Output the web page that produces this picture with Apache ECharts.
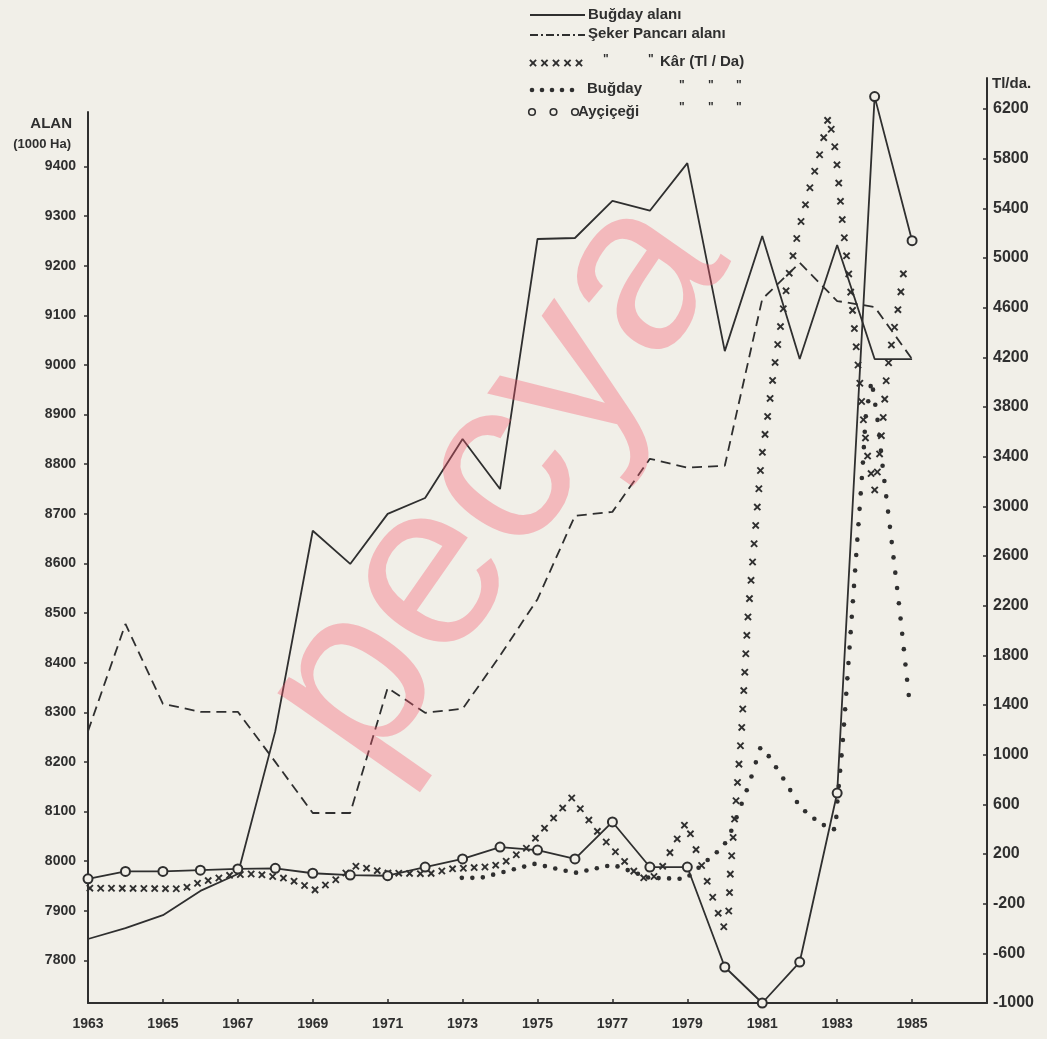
<!DOCTYPE html>
<html>
<head>
<meta charset="utf-8">
<script src="https://cdn.jsdelivr.net/npm/echarts@6/dist/echarts.min.js"></script>
<style>
html,body{margin:0;padding:0;background:#f1efe8;}
#c{width:1047px;height:1039px;}
</style>
</head>
<body>
<div id="c"></div>
<script>
// ---- data ----
const years = [1963,1964,1965,1966,1967,1968,1969,1970,1971,1972,1973,1974,1975,1976,1977,1978,1979,1980,1981,1982,1983,1984,1985];
// Buğday alanı (1000 Ha) - left axis
const bugdayAlani = [7843,7865,7891,7940,7974,8262,8666,8599,8700,8732,8851,8750,9254,9256,9331,9311,9407,9028,9260,9012,9242,9012,9012];
// Şeker Pancarı alanı (1000 Ha) - left axis
const sekerAlani = [8262,8478,8317,8301,8301,8200,8097,8097,8349,8299,8307,8414,8528,8696,8704,8811,8793,8797,9133,9206,9129,9117,9012];
// Ayçiçeği Kâr (Tl/da) - right axis
const aycicegiKar = [0,60,60,70,80,85,45,30,25,95,160,256,232,160,458,95,95,-710,-1000,-670,691,6300,5140];
// Şeker Pancarı Kâr (Tl/da) - traced path [year, value]
const sekerKar = [[1963.05,-75],[1965.54,-80],[1965.86,-40],[1966.83,32],[1967.47,40],[1968.35,0],[1969.07,-90],[1969.61,-8],[1970.17,105],[1970.97,48],[1972.10,40],[1972.69,80],[1973.68,97],[1974.05,121],[1974.69,242],[1975.92,653],[1976.73,330],[1977.69,24],[1977.98,-8],[1978.25,48],[1978.97,459],[1979.48,24],[1979.96,-395],[1980.10,-299],[1980.15,56],[1980.31,669],[1980.44,1153],[1980.61,2080],[1980.79,2725],[1980.98,3386],[1981.11,3652],[1981.38,4241],[1981.68,4821],[1981.94,5184],[1982.29,5587],[1982.56,5861],[1982.77,6143],[1982.96,5861],[1983.15,5265],[1983.33,4821],[1983.55,4160],[1983.71,3668],[1983.82,3386],[1984.00,3128],[1984.11,3354],[1984.24,3749],[1984.32,4055],[1984.48,4362],[1984.67,4660],[1984.81,4966]];
// Buğday Kâr (Tl/da) - traced path [year, value]
const bugdayKar = [[1972.98,8],[1973.49,8],[1974.93,121],[1976.00,48],[1977.02,113],[1977.98,8],[1978.95,0],[1979.96,258],[1980.20,403],[1980.66,774],[1980.95,1056],[1981.19,983],[1981.65,766],[1982.00,580],[1982.56,443],[1982.96,395],[1982.99,572],[1983.15,1104],[1983.55,2781],[1983.68,3313],[1983.76,3717],[1983.92,4015],[1984.08,3692],[1984.22,3305],[1984.43,2781],[1984.67,2161],[1984.94,1395]];
// tick labels
const xTicks = [1963,1965,1967,1969,1971,1973,1975,1977,1979,1981,1983,1985];
const leftTicks = [7800,7900,8000,8100,8200,8300,8400,8500,8600,8700,8800,8900,9000,9100,9200,9300,9400];
const rightTicks = [-1000,-600,-200,200,600,1000,1400,1800,2200,2600,3000,3400,3800,4200,4600,5000,5400,5800,6200];

// ---- styling ----
const INK = '#2f2f2f';
const BG = '#f1efe8';
const FONT = '"Liberation Sans", "DejaVu Sans", Arial, sans-serif';
const plain = v => String(v);

function glyphsAlong(api, pts, sx, sy, make) {
  const px = pts.map(p => api.coord(p));
  const out = [make(px[0][0], px[0][1])];
  let next = 1;
  for (let i = 0; i < px.length - 1; i++) {
    const x0 = px[i][0], y0 = px[i][1];
    const dx = px[i+1][0] - x0, dy = px[i+1][1] - y0;
    const L = Math.sqrt((dx/sx)*(dx/sx) + (dy/sy)*(dy/sy));
    while (next <= L) {
      const f = next / L;
      out.push(make(x0 + dx*f, y0 + dy*f));
      next += 1;
    }
    next -= L;
  }
  return out;
}
function xGlyph(x, y) {
  const h = 3.1;
  return {type:'group', children:[
    {type:'line', shape:{x1:x-h,y1:y-h,x2:x+h,y2:y+h}, style:{stroke:INK,lineWidth:1.9}},
    {type:'line', shape:{x1:x-h,y1:y+h,x2:x+h,y2:y-h}, style:{stroke:INK,lineWidth:1.9}}
  ]};
}
function dotGlyph(x, y) {
  return {type:'circle', shape:{cx:x, cy:y, r:2.3}, style:{fill:INK}};
}

const chart = echarts.init(document.getElementById('c'), null, {renderer:'canvas'});

const gridCommon = {left:88, right:60, bottom:36, containLabel:false};
const xCommon = {
  type:'value', min:1963, max:1987,
  splitLine:{show:false},
  axisLine:{lineStyle:{color:INK, width:2}}
};

const legendX = 530;
const legend = [];
legend.push({type:'line', shape:{x1:legendX, y1:15, x2:legendX+55, y2:15}, style:{stroke:INK, lineWidth:1.8}});
legend.push({type:'line', shape:{x1:legendX, y1:35, x2:legendX+55, y2:35}, style:{stroke:INK, lineWidth:1.8, lineDash:[8,3,2,3]}});
for (let i = 0; i < 5; i++) {
  legend.push(xGlyph(legendX + 3 + i*11.5, 63));
  legend.push(dotGlyph(legendX + 2 + i*10, 90));
}
for (let i = 0; i < 3; i++) {
  legend.push({type:'circle', shape:{cx:legendX + 2 + i*21.5, cy:112, r:3.3}, style:{fill:BG, stroke:INK, lineWidth:1.6}});
}
const lt = (text, x, y, size) => ({type:'text', x:x, y:y, style:{text:text, fill:INK, font:'bold ' + (size||15) + 'px ' + FONT, verticalAlign:'middle', align:'left'}});
legend.push(lt('Buğday alanı', 588, 15));
legend.push(lt('Şeker Pancarı alanı', 588, 34));
legend.push(lt('"', 603, 60, 12));
legend.push(lt('"', 648, 60, 12));
legend.push(lt('Kâr (Tl / Da)', 660, 62));
legend.push(lt('Buğday', 587, 89));
legend.push(lt('"', 679, 86, 12));
legend.push(lt('"', 708, 86, 12));
legend.push(lt('"', 736, 86, 12));
legend.push(lt('Ayçiçeği', 578, 112));
legend.push(lt('"', 679, 108, 12));
legend.push(lt('"', 708, 108, 12));
legend.push(lt('"', 736, 108, 12));
// axis titles
legend.push({type:'text', x:72, y:124, style:{text:'ALAN', fill:INK, font:'bold 15px ' + FONT, align:'right', verticalAlign:'middle'}});
legend.push({type:'text', x:71, y:144, style:{text:'(1000 Ha)', fill:INK, font:'bold 13px ' + FONT, align:'right', verticalAlign:'middle'}});
legend.push({type:'text', x:992, y:84, style:{text:'Tl/da.', fill:INK, font:'bold 15px ' + FONT, align:'left', verticalAlign:'middle'}});
// watermark
legend.push({type:'text', x:498, y:482, rotation:0.96, z:100, silent:true,
  style:{text:'pecya', fill:'rgba(248,90,110,0.36)', font:'236px ' + FONT, align:'center', verticalAlign:'middle'}});

const option = {
  backgroundColor: BG,
  animation: false,
  textStyle: {fontFamily: FONT},
  grid: [
    Object.assign({top:112}, gridCommon),
    Object.assign({top:78}, gridCommon)
  ],
  xAxis: [
    Object.assign({gridIndex:0,
      axisTick:{inside:true, length:4, lineStyle:{color:INK, width:1.5}, customValues:xTicks},
      axisLabel:{customValues:xTicks, formatter:plain, color:INK, fontSize:14, fontWeight:'bold', margin:14}
    }, xCommon),
    Object.assign({gridIndex:1, show:false}, xCommon)
  ],
  yAxis: [
    {type:'value', gridIndex:0, position:'left', min:7714, max:9510,
      splitLine:{show:false},
      axisLine:{show:true, lineStyle:{color:INK, width:2}},
      axisTick:{show:true, length:4, lineStyle:{color:INK, width:1.5}, customValues:leftTicks},
      axisLabel:{customValues:leftTicks, formatter:plain, color:INK, fontSize:14, fontWeight:'bold', margin:12}
    },
    {type:'value', gridIndex:1, position:'right', min:-1000, max:6450,
      splitLine:{show:false},
      axisLine:{show:true, lineStyle:{color:INK, width:2}},
      axisTick:{show:true, inside:true, length:4, lineStyle:{color:INK, width:1.5}, customValues:rightTicks},
      axisLabel:{customValues:rightTicks, formatter:plain, color:INK, fontSize:16, fontWeight:'bold', margin:6}
    }
  ],
  graphic: legend,
  series: [
    {name:'Buğday alanı', type:'line', xAxisIndex:0, yAxisIndex:0, symbol:'none',
      data: years.map((y,i)=>[y, bugdayAlani[i]]),
      lineStyle:{color:INK, width:1.8}, z:3},
    {name:'Şeker Pancarı alanı', type:'line', xAxisIndex:0, yAxisIndex:0, symbol:'none',
      data: years.map((y,i)=>[y, sekerAlani[i]]),
      lineStyle:{color:INK, width:1.8, type:[10,6]}, z:3},
    {name:'Şeker Pancarı Kâr', type:'custom', xAxisIndex:1, yAxisIndex:1,
      data: sekerKar, encode:{x:0, y:1},
      renderItem: function(params, api) {
        if (params.dataIndex !== 0) return null;
        return {type:'group', children: glyphsAlong(api, sekerKar, 10.8, 18.5, xGlyph)};
      }, z:4},
    {name:'Buğday Kâr', type:'custom', xAxisIndex:1, yAxisIndex:1,
      data: bugdayKar, encode:{x:0, y:1},
      renderItem: function(params, api) {
        if (params.dataIndex !== 0) return null;
        return {type:'group', children: glyphsAlong(api, bugdayKar, 10.5, 15.5, dotGlyph)};
      }, z:4},
    {name:'Ayçiçeği Kâr', type:'line', xAxisIndex:1, yAxisIndex:1,
      data: years.map((y,i)=>[y, aycicegiKar[i]]),
      symbol:'circle', symbolSize:9, showAllSymbol:true,
      itemStyle:{color:BG, borderColor:INK, borderWidth:2},
      lineStyle:{color:INK, width:1.8}, z:5}
  ]
};
chart.setOption(option);
</script>
</body>
</html>
